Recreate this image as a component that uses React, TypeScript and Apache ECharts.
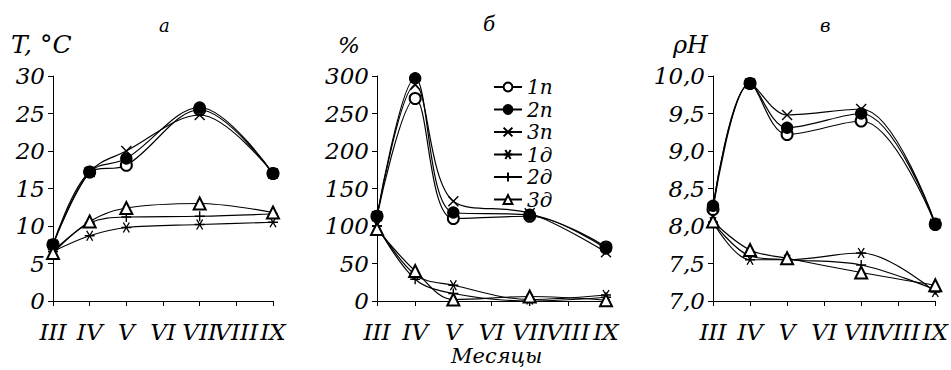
import React, { useEffect, useRef } from "react";
import * as echarts from "echarts";

const months = ["III", "IV", "V", "VI", "VII", "VIII", "IX"];
const seriesNames = ["1п", "2п", "3п", "1д", "2д", "3д"];

// Panel а: T, °C
const t1p = [7.5, 17.2, 18.1, null, 25.5, null, 17.0];
const t2p = [7.5, 17.2, 19.0, null, 25.8, null, 17.0];
const t3p = [7.5, 17.2, 20.0, null, 24.8, null, 17.0];
const t1d = [6.6, 8.7, 9.8, null, 10.2, null, 10.5];
const t2d = [6.6, 10.4, 11.2, null, 11.3, null, 11.6];
const t3d = [6.4, 10.6, 12.4, null, 13.0, null, 11.8];

// Panel б: %
const p1p = [113, 270, 110, null, 113, null, 72];
const p2p = [113, 297, 118, null, 115, null, 70];
const p3p = [113, 288, 133, null, 117, null, 65];
const p1d = [100, 35, 21, null, 2, null, 8];
const p2d = [100, 29, 10, null, 0, null, 5];
const p3d = [96, 40, 2, null, 6, null, 1];

// Panel в: pH
const h1p = [8.22, 9.9, 9.22, null, 9.4, null, 8.02];
const h2p = [8.27, 9.9, 9.31, null, 9.5, null, 8.03];
const h3p = [8.25, 9.9, 9.48, null, 9.56, null, 8.03];
const h1d = [8.05, 7.55, 7.55, null, 7.64, null, 7.12];
const h2d = [8.05, 7.6, 7.55, null, 7.48, null, 7.15];
const h3d = [8.06, 7.68, 7.57, null, 7.38, null, 7.21];

const FONT = "'DejaVu Serif'";

const symbols: any[] = [
  { symbol: "emptyCircle", color: "#000", size: 11 },
  { symbol: "circle", color: "#000", size: 11 },
  { symbol: "path://M0,0L10,10M10,0L0,10", color: "#fff", size: 10 },
  { symbol: "path://M0,5L10,5M2,0L8,10M8,0L2,10", color: "#fff", size: 10 },
  { symbol: "path://M5,0L5,10M0,5L10,5", color: "#fff", size: 10 },
  { symbol: "emptyTriangle", color: "#000", size: 12 },
];

export default function App() {
  const ref = useRef<HTMLDivElement>(null);
  useEffect(() => {
    if (!ref.current) return;
    const chart = echarts.init(ref.current, null, { renderer: "svg" });
    const panels = [
      { data: [t1p, t2p, t3p, t1d, t2d, t3d], min: 0, max: 30, interval: 5, fmt: (v: number) => String(v) },
      { data: [p1p, p2p, p3p, p1d, p2d, p3d], min: 0, max: 300, interval: 50, fmt: (v: number) => String(v) },
      { data: [h1p, h2p, h3p, h1d, h2d, h3d], min: 7, max: 10, interval: 0.5, fmt: (v: number) => v.toFixed(1).replace(".", ",") },
    ];
    const grids = [
      { left: 53, top: 76, width: 220, height: 225 },
      { left: 377, top: 76, width: 229, height: 225 },
      { left: 713, top: 76, width: 224, height: 225 },
    ];
    const labelStyle = { fontFamily: FONT, fontStyle: "italic", fontSize: 23, color: "#000" };
    const axisLine = { show: true, lineStyle: { color: "#000", width: 1 } };
    const series: any[] = [];
    panels.forEach((p, gi) => {
      p.data.forEach((d, si) => {
        const s = symbols[si];
        series.push({
          type: "line",
          name: seriesNames[si],
          xAxisIndex: gi,
          yAxisIndex: gi,
          data: d,
          connectNulls: true,
          smooth: 0.35,
          symbol: s.symbol,
          symbolSize: s.size,
          showSymbol: true,
          lineStyle: { color: "#000", width: 1.2 },
          itemStyle: { color: s.color, borderColor: "#000", borderWidth: 1.4 },
        });
      });
    });
    const txt = (text: string, left: number, top: number, size: number) => ({
      type: "text",
      left,
      top,
      style: { text, fontFamily: FONT, fontStyle: "italic", fontSize: size, fill: "#000" },
    });
    chart.setOption({
      animation: false,
      backgroundColor: "#fff",
      grid: grids,
      xAxis: grids.map((_, i) => ({
        type: "category",
        gridIndex: i,
        data: months,
        boundaryGap: false,
        axisLine,
        axisTick: { show: true, alignWithLabel: true, length: 5, lineStyle: { color: "#000" } },
        axisLabel: { ...labelStyle, margin: 19, interval: 0 },
        splitLine: { show: false },
      })),
      yAxis: panels.map((p, i) => ({
        type: "value",
        gridIndex: i,
        min: p.min,
        max: p.max,
        interval: p.interval,
        axisLine,
        axisTick: { show: true, length: 5, lineStyle: { color: "#000" } },
        axisLabel: { ...labelStyle, margin: 8, formatter: p.fmt },
        splitLine: { show: false },
      })),
      legend: {
        data: seriesNames,
        orient: "vertical",
        left: 488,
        top: 71,
        itemWidth: 28,
        itemHeight: 11,
        itemGap: 0.5,
        textStyle: { ...labelStyle, fontSize: 20, lineHeight: 22 },
        selectedMode: false,
      },
      graphic: [
        txt("а", 159, 16, 18),
        txt("б", 483, 14, 20),
        txt("в", 820, 16, 18),
        txt("T, °C", 11, 32, 25),
        txt("%", 338, 33, 23),
        txt("ρH", 673, 33, 24),
        txt("Месяцы", 451, 345, 21),
      ],
      series,
    });
    return () => chart.dispose();
  }, []);
  return <div ref={ref} style={{ position: "fixed", left: 0, top: 0, width: 951, height: 370 }} />;
}
